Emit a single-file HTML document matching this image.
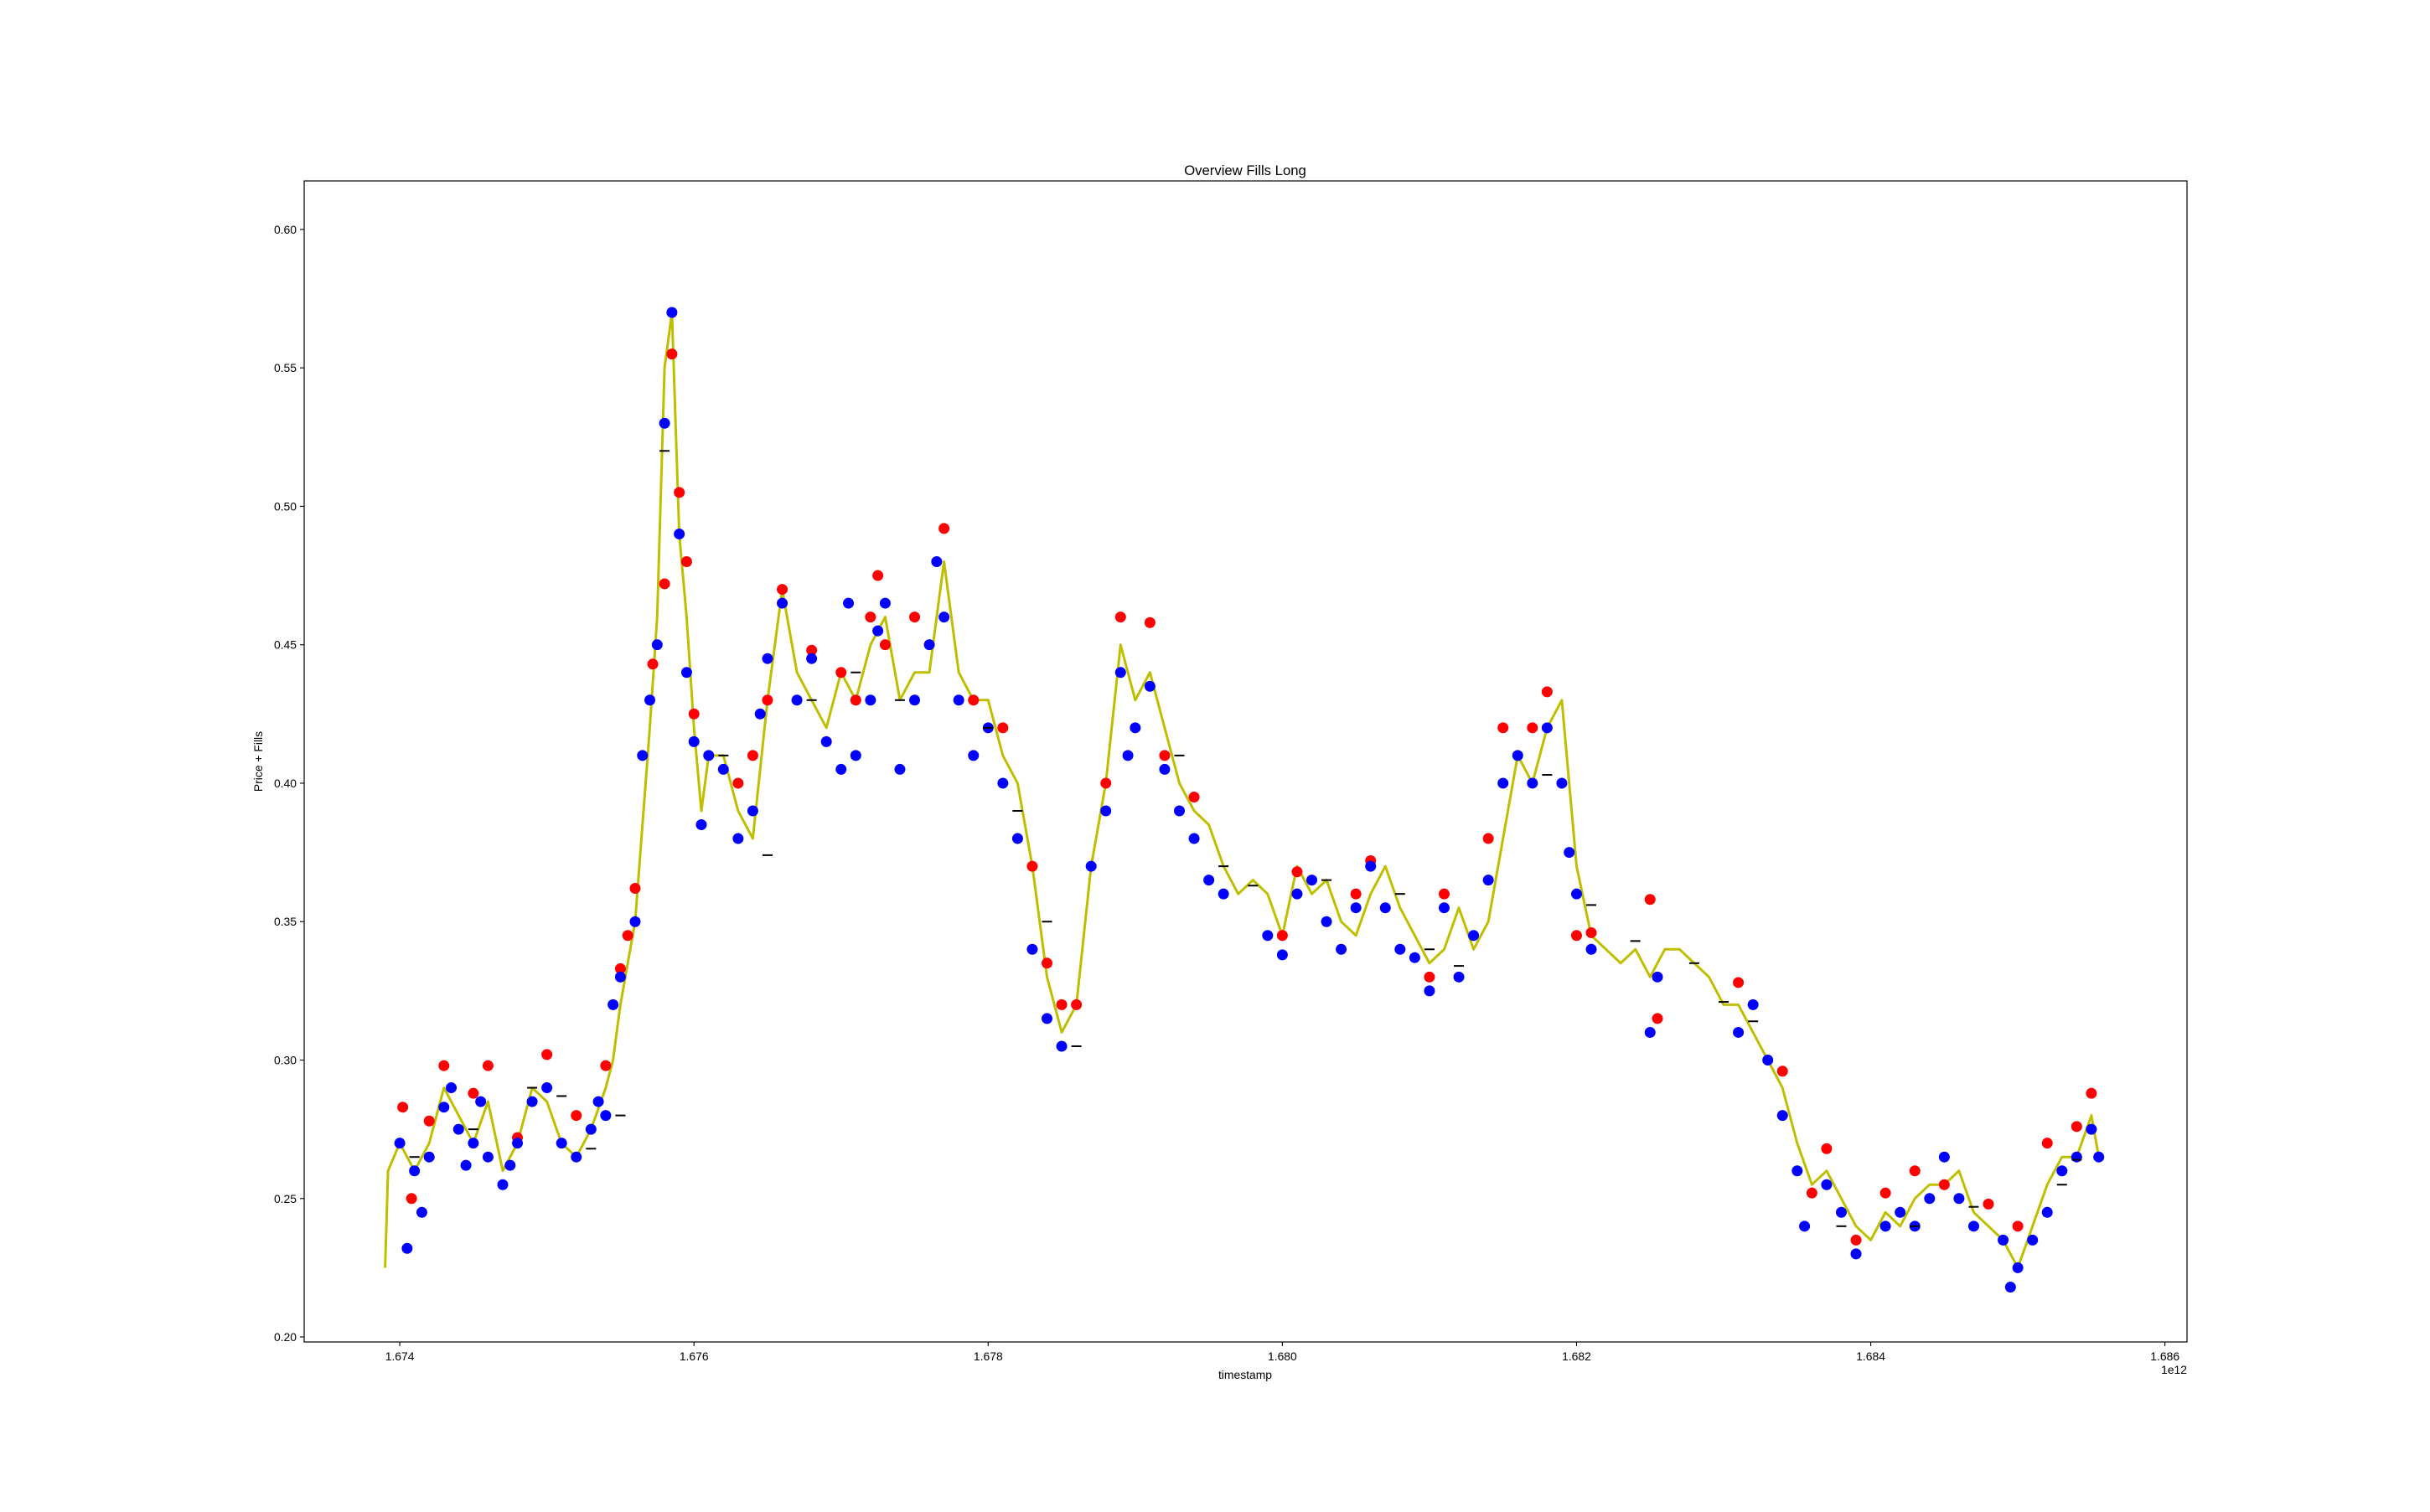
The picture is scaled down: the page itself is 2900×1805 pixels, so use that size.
<!DOCTYPE html>
<html><head><meta charset="utf-8"><style>
html,body{margin:0;padding:0;background:#fff;}
svg text{font-family:"Liberation Sans","DejaVu Sans",sans-serif;fill:#000;}
</style></head><body>
<svg id="chart" width="2900" height="1800" viewBox="0 0 2900 1800" xmlns="http://www.w3.org/2000/svg">
<rect width="2900" height="1800" fill="#fff"/>
<text x="1486" y="209" font-size="16.7" text-anchor="middle">Overview Fills Long</text>
<g id="plot"></g>
<g id="axes"></g>
<text x="1486" y="1646" font-size="13.9" text-anchor="middle">timestamp</text>
<text x="313" y="909" font-size="13.9" text-anchor="middle" transform="rotate(-90 313 909)">Price + Fills</text>
<text x="2610" y="1640" font-size="13.9" text-anchor="end">1e12</text>
<rect x="363" y="216" width="2247" height="1386" fill="none" stroke="#000" stroke-width="1.2"/>
</svg>
<script>
const priceT=[1.6739,1.67392,1.6740,1.6741,1.6742,1.6743,1.6744,1.6745,1.6746,1.6747,1.6748,1.6749,1.6750,1.6751,1.6752,1.6753,1.6754,1.67545,1.6755,1.6756,1.6757,1.67575,1.6758,1.67585,1.6759,1.67595,1.6760,1.67605,1.6761,1.6762,1.6763,1.6764,1.6765,1.6766,1.6767,1.6768,1.6769,1.6770,1.6771,1.6772,1.6773,1.6774,1.6775,1.6776,1.6777,1.6778,1.6779,1.6780,1.6781,1.6782,1.6783,1.6784,1.6785,1.6786,1.6787,1.6788,1.6789,1.6790,1.6791,1.6792,1.6793,1.6794,1.6795,1.6796,1.6797,1.6798,1.6799,1.6800,1.6801,1.6802,1.6803,1.6804,1.6805,1.6806,1.6807,1.6808,1.6809,1.6810,1.6811,1.6812,1.6813,1.6814,1.6815,1.6816,1.6817,1.6818,1.6819,1.6820,1.6821,1.6822,1.6823,1.6824,1.6825,1.6826,1.6827,1.6828,1.6829,1.6830,1.6831,1.6832,1.6833,1.6834,1.6835,1.6836,1.6837,1.6838,1.6839,1.6840,1.6841,1.6842,1.6843,1.6844,1.6845,1.6846,1.6847,1.6848,1.6849,1.6850,1.6851,1.6852,1.6853,1.6854,1.6855,1.68555];
const priceV=[0.225,0.26,0.27,0.26,0.27,0.29,0.28,0.27,0.285,0.26,0.27,0.29,0.285,0.27,0.265,0.275,0.29,0.30,0.32,0.35,0.42,0.46,0.55,0.57,0.49,0.46,0.42,0.39,0.41,0.41,0.39,0.38,0.43,0.47,0.44,0.43,0.42,0.44,0.43,0.45,0.46,0.43,0.44,0.44,0.48,0.44,0.43,0.43,0.41,0.40,0.37,0.33,0.31,0.32,0.37,0.40,0.45,0.43,0.44,0.42,0.40,0.39,0.385,0.37,0.36,0.365,0.36,0.345,0.37,0.36,0.365,0.35,0.345,0.36,0.37,0.355,0.345,0.335,0.34,0.355,0.34,0.35,0.38,0.41,0.40,0.42,0.43,0.37,0.345,0.34,0.335,0.34,0.33,0.34,0.34,0.335,0.33,0.32,0.32,0.31,0.30,0.29,0.27,0.255,0.26,0.25,0.24,0.235,0.245,0.24,0.25,0.255,0.255,0.26,0.245,0.24,0.235,0.225,0.24,0.255,0.265,0.265,0.28,0.265];
const blueT=[1.6740,1.67405,1.6741,1.67415,1.6742,1.6743,1.67435,1.6744,1.67445,1.6745,1.67455,1.6746,1.6747,1.67475,1.6748,1.6749,1.6750,1.6751,1.6752,1.6753,1.67535,1.6754,1.67545,1.6755,1.6756,1.67565,1.6757,1.67575,1.6758,1.67585,1.6759,1.67595,1.6760,1.67605,1.6761,1.6762,1.6763,1.6764,1.67645,1.6765,1.6766,1.6767,1.6768,1.6769,1.6770,1.67705,1.6771,1.6772,1.67725,1.6773,1.6774,1.6775,1.6776,1.67765,1.6777,1.6778,1.6779,1.6780,1.6781,1.6782,1.6783,1.6784,1.6785,1.6787,1.6788,1.6789,1.67895,1.6790,1.6791,1.6792,1.6793,1.6794,1.6795,1.6796,1.6799,1.6800,1.6801,1.6802,1.6803,1.6804,1.6805,1.6806,1.6807,1.6808,1.6809,1.6810,1.6811,1.6812,1.6813,1.6814,1.6815,1.6816,1.6817,1.6818,1.6819,1.68195,1.6820,1.6821,1.6825,1.68255,1.6831,1.6832,1.6833,1.6834,1.6835,1.68355,1.6837,1.6838,1.6839,1.6841,1.6842,1.6843,1.6844,1.6845,1.6846,1.6847,1.6849,1.68495,1.6850,1.6851,1.6852,1.6853,1.6854,1.6855,1.68555];
const blueV=[0.27,0.232,0.26,0.245,0.265,0.283,0.29,0.275,0.262,0.27,0.285,0.265,0.255,0.262,0.27,0.285,0.29,0.27,0.265,0.275,0.285,0.28,0.32,0.33,0.35,0.41,0.43,0.45,0.53,0.57,0.49,0.44,0.415,0.385,0.41,0.405,0.38,0.39,0.425,0.445,0.465,0.43,0.445,0.415,0.405,0.465,0.41,0.43,0.455,0.465,0.405,0.43,0.45,0.48,0.46,0.43,0.41,0.42,0.40,0.38,0.34,0.315,0.305,0.37,0.39,0.44,0.41,0.42,0.435,0.405,0.39,0.38,0.365,0.36,0.345,0.338,0.36,0.365,0.35,0.34,0.355,0.37,0.355,0.34,0.337,0.325,0.355,0.33,0.345,0.365,0.40,0.41,0.40,0.42,0.40,0.375,0.36,0.34,0.31,0.33,0.31,0.32,0.30,0.28,0.26,0.24,0.255,0.245,0.23,0.24,0.245,0.24,0.25,0.265,0.25,0.24,0.235,0.218,0.225,0.235,0.245,0.26,0.265,0.275,0.265];
const redT=[1.67402,1.67408,1.6742,1.6743,1.6745,1.6746,1.6748,1.6750,1.6752,1.6754,1.6755,1.67555,1.6756,1.67572,1.6758,1.67585,1.6759,1.67595,1.6760,1.6763,1.6764,1.6765,1.6766,1.6768,1.6770,1.6771,1.6772,1.67725,1.6773,1.6775,1.6777,1.6779,1.6781,1.6783,1.6784,1.6785,1.6786,1.6788,1.6789,1.6791,1.6792,1.6794,1.6800,1.6801,1.6805,1.6806,1.6810,1.6811,1.6814,1.6815,1.6817,1.6818,1.6820,1.6821,1.6825,1.68255,1.6831,1.6834,1.6836,1.6837,1.6839,1.6841,1.6843,1.6845,1.6848,1.6850,1.6852,1.6854,1.6855];
const redV=[0.283,0.25,0.278,0.298,0.288,0.298,0.272,0.302,0.28,0.298,0.333,0.345,0.362,0.443,0.472,0.555,0.505,0.48,0.425,0.40,0.41,0.43,0.47,0.448,0.44,0.43,0.46,0.475,0.45,0.46,0.492,0.43,0.42,0.37,0.335,0.32,0.32,0.40,0.46,0.458,0.41,0.395,0.345,0.368,0.36,0.372,0.33,0.36,0.38,0.42,0.42,0.433,0.345,0.346,0.358,0.315,0.328,0.296,0.252,0.268,0.235,0.252,0.26,0.255,0.248,0.24,0.27,0.276,0.288];
const dashT=[1.6741,1.6745,1.6749,1.6751,1.6753,1.6755,1.6758,1.6762,1.6765,1.6768,1.6771,1.6774,1.6780,1.6782,1.6784,1.6786,1.6793,1.6796,1.6798,1.6803,1.6808,1.6810,1.6812,1.6818,1.6821,1.6824,1.6828,1.6830,1.6832,1.6838,1.6843,1.6847,1.6853,1.6854];
const dashV=[0.265,0.275,0.29,0.287,0.268,0.28,0.52,0.41,0.374,0.43,0.44,0.43,0.42,0.39,0.35,0.305,0.41,0.37,0.363,0.365,0.36,0.34,0.334,0.403,0.356,0.343,0.335,0.321,0.314,0.24,0.24,0.247,0.255,0.264];
const xTicks=[1.674,1.676,1.678,1.680,1.682,1.684,1.686];
const xTickLabels=["1.674","1.676","1.678","1.680","1.682","1.684","1.686"];
const yTicks=[0.20,0.25,0.30,0.35,0.40,0.45,0.50,0.55,0.60];
const yTickLabels=["0.20","0.25","0.30","0.35","0.40","0.45","0.50","0.55","0.60"];

const NS="http://www.w3.org/2000/svg";
const X0=363,X1=2610,Y0=216,Y1=1602;
const xMin=1.67335,xMax=1.68615,yMin=0.1982,yMax=0.6175;
function sx(t){return X0+(t-xMin)/(xMax-xMin)*(X1-X0);}
function sy(v){return Y1-(v-yMin)/(yMax-yMin)*(Y1-Y0);}
function mk(tag,attrs,parent){const e=document.createElementNS(NS,tag);for(const k in attrs)e.setAttribute(k,attrs[k]);parent.appendChild(e);return e;}
const plot=document.getElementById('plot');
const axes=document.getElementById('axes');

let d='';
for(let i=0;i<priceT.length;i++){d+=(i?'L':'M')+sx(priceT[i]).toFixed(1)+','+sy(priceV[i]).toFixed(1);}
const pl=mk('path',{d:d,fill:'none',stroke:'#bfbf00','stroke-width':3,'stroke-linejoin':'round'},plot);



for(let i=0;i<redT.length;i++){
  const c=mk('circle',{cx:sx(redT[i]),cy:sy(redV[i]),r:6.5,fill:'#ff0000'},plot);
  
  
}
for(let i=0;i<blueT.length;i++){
  const c=mk('circle',{cx:sx(blueT[i]),cy:sy(blueV[i]),r:6.5,fill:'#0000ff'},plot);
  
  
}
for(let i=0;i<dashT.length;i++){
  const x=sx(dashT[i]),y=sy(dashV[i]);
  const l=mk('line',{x1:x-6,x2:x+6,y1:y,y2:y,stroke:'#000','stroke-width':2},plot);
  
  
}
for(let i=0;i<xTicks.length;i++){
  const x=sx(xTicks[i]);
  const t=mk('line',{x1:x,x2:x,y1:Y1,y2:Y1+5,stroke:'#000','stroke-width':1.1},axes);
  
  
  const lb=mk('text',{x:x,y:Y1+22,'font-size':13.9,'text-anchor':'middle'},axes);
  lb.textContent=xTickLabels[i];
  
  
}
for(let i=0;i<yTicks.length;i++){
  const y=sy(yTicks[i]);
  const t=mk('line',{x1:X0-5,x2:X0,y1:y,y2:y,stroke:'#000','stroke-width':1.1},axes);
  
  
  const lb=mk('text',{x:X0-9,y:y+5,'font-size':13.9,'text-anchor':'end'},axes);
  lb.textContent=yTickLabels[i];
  
  
}
</script>
</body></html>
